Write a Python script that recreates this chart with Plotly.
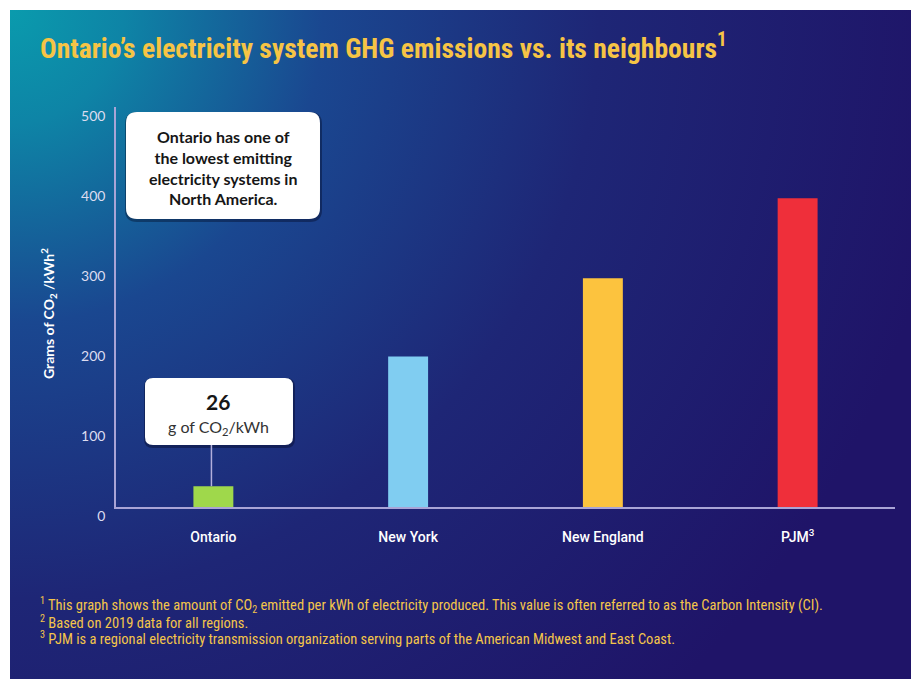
import base64
import plotly.graph_objects as go

# ---------------- data ----------------
categories = ["Ontario", "New York", "New England", "PJM"]
tick_labels = ["Ontario", "New York", "New England", "PJM<sup>3</sup>"]
emissions = [26, 188, 286, 386]
bar_colors = ["#9fd84b", "#80cdf1", "#fcc33e", "#ef2f3a"]
y_ticks = [0, 100, 200, 300, 400, 500]

title_text = "Ontario\u2019s electricity system GHG emissions vs. its neighbours<sup>1</sup>"
y_title = "Grams of CO<sub>2</sub> /kWh<sup>2</sup>"
callout_text = "Ontario has one of<br>the lowest emitting<br>electricity systems in<br>North America."
value_unit = "g of CO<sub>2</sub>/kWh"
footnotes = [
    "<sup>1</sup> This graph shows the amount of CO<sub>2</sub> emitted per kWh of electricity produced. This value is often referred to as the Carbon Intensity (CI).",
    "<sup>2</sup> Based on 2019 data for all regions.",
    "<sup>3</sup> PJM is a regional electricity transmission organization serving parts of the American Midwest and East Coast.",
]

# ---------------- layout helpers ----------------
W, H = 911, 679


def px(x):
    return x / W


def py(y):
    return 1 - y / H


def rounded_rect(x0, y0, x1, y1, r):
    pts = [
        ("M", x0 + r, y0),
        ("L", x1 - r, y0),
        ("Q", x1, y0, x1, y0 + r),
        ("L", x1, y1 - r),
        ("Q", x1, y1, x1 - r, y1),
        ("L", x0 + r, y1),
        ("Q", x0, y1, x0, y1 - r),
        ("L", x0, y0 + r),
        ("Q", x0, y0, x0 + r, y0),
    ]
    out = []
    for p in pts:
        cmd = p[0]
        coords = p[1:]
        s = []
        for i in range(0, len(coords), 2):
            s.append(f"{px(coords[i]):.5f},{py(coords[i+1]):.5f}")
        out.append(cmd + " " + " ".join(s))
    return " ".join(out) + " Z"


svg = (
    '<svg xmlns="http://www.w3.org/2000/svg" width="901" height="669" viewBox="0 0 901 669">'
    '<defs><radialGradient id="g" gradientUnits="userSpaceOnUse" cx="0" cy="0" r="950">'
    '<stop offset="0" stop-color="#0a9bad"/>'
    '<stop offset="0.12" stop-color="#0e84a6"/>'
    '<stop offset="0.33" stop-color="#1a4790"/>'
    '<stop offset="0.62" stop-color="#1e2676"/>'
    '<stop offset="1" stop-color="#1f1468"/>'
    '</radialGradient></defs>'
    '<rect width="901" height="669" fill="url(#g)"/></svg>'
)
bg_uri = "data:image/svg+xml;base64," + base64.b64encode(svg.encode()).decode()

fig = go.Figure()
fig.add_trace(
    go.Bar(
        x=categories,
        y=emissions,
        marker=dict(color=bar_colors, line=dict(width=0)),
        width=0.205,
        hoverinfo="x+y",
    )
)

axis_line = "#a9a4d6"
COND = "Roboto Condensed, Liberation Sans Narrow, Roboto, sans-serif"

fig.update_layout(
    width=W,
    height=H,
    autosize=False,
    margin=dict(l=0, r=0, t=0, b=0, pad=0, autoexpand=False),
    paper_bgcolor="white",
    plot_bgcolor="rgba(0,0,0,0)",
    showlegend=False,
    xaxis=dict(
        domain=[px(116), px(895)],
        range=[-0.5, 3.5],
        automargin=False,
        tickmode="array",
        tickvals=categories,
        ticktext=tick_labels,
        showline=True,
        linecolor=axis_line,
        linewidth=1.5,
        showgrid=False,
        zeroline=False,
        ticks="",
        ticklabelstandoff=16,
        tickfont=dict(family="Roboto", size=14, color="white", weight=500),
        fixedrange=True,
    ),
    yaxis=dict(
        domain=[py(507), py(107)],
        range=[0, 500],
        automargin=False,
        tickmode="array",
        tickvals=y_ticks,
        showline=True,
        linecolor=axis_line,
        linewidth=1.5,
        showgrid=False,
        zeroline=False,
        ticks="",
        ticklabelshift=9,
        ticklabelstandoff=6,
        tickfont=dict(family="Lato", size=14, color="#dcdcf0"),
        fixedrange=True,
    ),
    images=[
        dict(
            source=bg_uri,
            xref="paper",
            yref="paper",
            x=px(10),
            y=py(10),
            sizex=901 / W,
            sizey=669 / H,
            xanchor="left",
            yanchor="top",
            sizing="stretch",
            layer="below",
        )
    ],
)

# soft shadows then white callout boxes
for (x0, y0, x1, y1, r) in [(126, 112, 320, 219, 11), (145, 378, 293, 445, 8)]:
    fig.add_shape(
        type="path",
        path=rounded_rect(x0 - 1, y0, x1 + 2, y1 + 3, r + 1),
        xref="paper",
        yref="paper",
        fillcolor="rgba(0,0,20,0.35)",
        line=dict(width=0),
        layer="above",
    )
    fig.add_shape(
        type="path",
        path=rounded_rect(x0, y0, x1, y1, r),
        xref="paper",
        yref="paper",
        fillcolor="white",
        line=dict(width=0),
        layer="above",
    )

fig.add_shape(
    type="line",
    xref="x",
    yref="y",
    x0=categories[0],
    x1=categories[0],
    y0=emissions[0],
    y1=77.5,
    x0shift=-0.01,
    x1shift=-0.01,
    line=dict(color="#b3afdc", width=1.5),
)

ann = []
ann.append(
    dict(
        text="<b>" + title_text + "</b>",
        x=px(38),
        y=py(47),
        xanchor="left",
        yanchor="middle",
        font=dict(family=COND, size=27.6, color="#f6c445"),
    )
)
ann.append(
    dict(
        text="<b>" + y_title + "</b>",
        x=px(48),
        y=py(314),
        xanchor="center",
        yanchor="middle",
        textangle=-90,
        font=dict(family="Lato", size=14, color="white"),
    )
)
ann.append(
    dict(
        text="<b>" + callout_text + "</b>",
        x=px(223),
        y=py(167),
        xanchor="center",
        yanchor="middle",
        align="center",
        font=dict(family="Lato", size=16, color="#161616"),
    )
)
ann.append(
    dict(
        text="<b>" + str(emissions[0]) + "</b>",
        x=px(218),
        y=py(401),
        xanchor="center",
        yanchor="middle",
        font=dict(family="Lato", size=21, color="#161616"),
    )
)
ann.append(
    dict(
        text=value_unit,
        x=px(218),
        y=py(427),
        xanchor="center",
        yanchor="middle",
        font=dict(family="Lato", size=16, color="#333333"),
    )
)
for t, yy in zip(footnotes, [605, 622, 638]):
    ann.append(
        dict(
            text=t,
            x=px(38),
            y=py(yy),
            xanchor="left",
            yanchor="middle",
            font=dict(family=COND, size=14.5, color="#f4c54a", weight=400),
        )
    )

for a in ann:
    a.update(xref="paper", yref="paper", showarrow=False)
    fig.add_annotation(**a)

fig.write_html("out.html")
